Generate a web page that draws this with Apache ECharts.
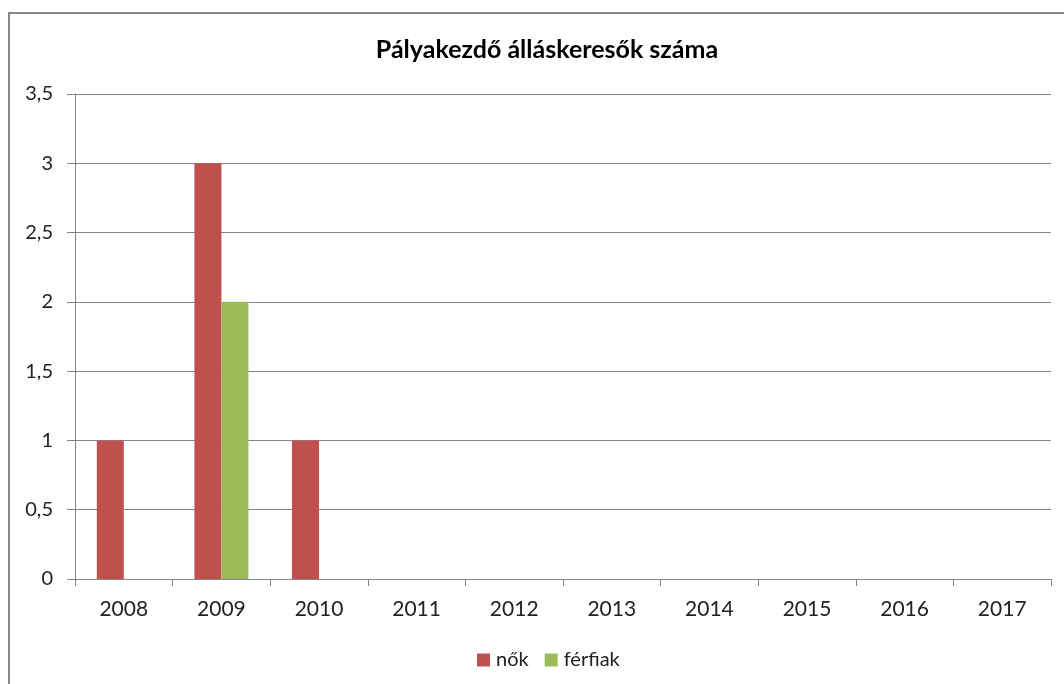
<!DOCTYPE html>
<html>
<head>
<meta charset="utf-8">
<script src="https://cdn.jsdelivr.net/npm/echarts@6/dist/echarts.min.js"></script>
<style>
  html, body { margin: 0; padding: 0; background: #fff; }
  #chart { width: 1064px; height: 684px; }
</style>
</head>
<body>
<div id="chart"></div>
<script>
// adatok
const years = ['2008', '2009', '2010', '2011', '2012', '2013', '2014', '2015', '2016', '2017'];
const nokValues = [1, 3, 1, 0, 0, 0, 0, 0, 0, 0];
const ferfiakValues = [0, 2, 0, 0, 0, 0, 0, 0, 0, 0];
const seriesNames = ['nők', 'férfiak'];
const chartTitle = 'Pályakezdő álláskeresők száma';

var chart = echarts.init(document.getElementById('chart'));
const font = 'Lato';
const gridColor = '#868686';

var option = {
    animation: false,
    textStyle: { fontFamily: font },
    graphic: [{
        type: 'rect',
        shape: { x: 9, y: 13, width: 1100, height: 700 },
        style: { fill: 'none', stroke: '#868686', lineWidth: 2 },
        silent: true
    }],
    title: {
        text: chartTitle,
        left: 542,
        textAlign: 'center',
        top: 32,
        textStyle: { fontFamily: font, fontSize: 25, fontWeight: 'bold', color: '#000' }
    },
    legend: {
        data: seriesNames,
        left: 472,
        top: 645,
        itemWidth: 13,
        itemHeight: 13,
        itemGap: 16,
        icon: 'rect',
        textStyle: { fontFamily: font, fontSize: 20, color: '#222', padding: [0, 0, 0, 1] }
    },
    grid: { left: 75, right: 13, top: 94, bottom: 105, containLabel: false },
    xAxis: {
        type: 'category',
        data: years,
        axisLine: { lineStyle: { color: gridColor, width: 1 } },
        axisTick: { show: true, length: 7, alignWithLabel: false, lineStyle: { color: gridColor } },
        axisLabel: { fontFamily: font, fontSize: 21, color: '#222', margin: 20 }
    },
    yAxis: {
        type: 'value',
        min: 0,
        max: 3.5,
        interval: 0.5,
        axisLine: { show: true, lineStyle: { color: gridColor, width: 1 } },
        axisTick: { show: true, length: 8, lineStyle: { color: gridColor } },
        splitLine: { lineStyle: { color: gridColor, width: 1 } },
        axisLabel: {
            fontFamily: font, fontSize: 20, color: '#222', margin: 22,
            formatter: v => String(v).replace('.', ',')
        }
    },
    series: [
        {
            name: seriesNames[0],
            type: 'bar',
            data: nokValues,
            barWidth: 27,
            barGap: '0%',
            itemStyle: { color: '#C0504D' }
        },
        {
            name: seriesNames[1],
            type: 'bar',
            data: ferfiakValues,
            barWidth: 27,
            barGap: '0%',
            itemStyle: { color: '#9BBB59' }
        }
    ]
};

chart.setOption(option);
</script>
</body>
</html>
